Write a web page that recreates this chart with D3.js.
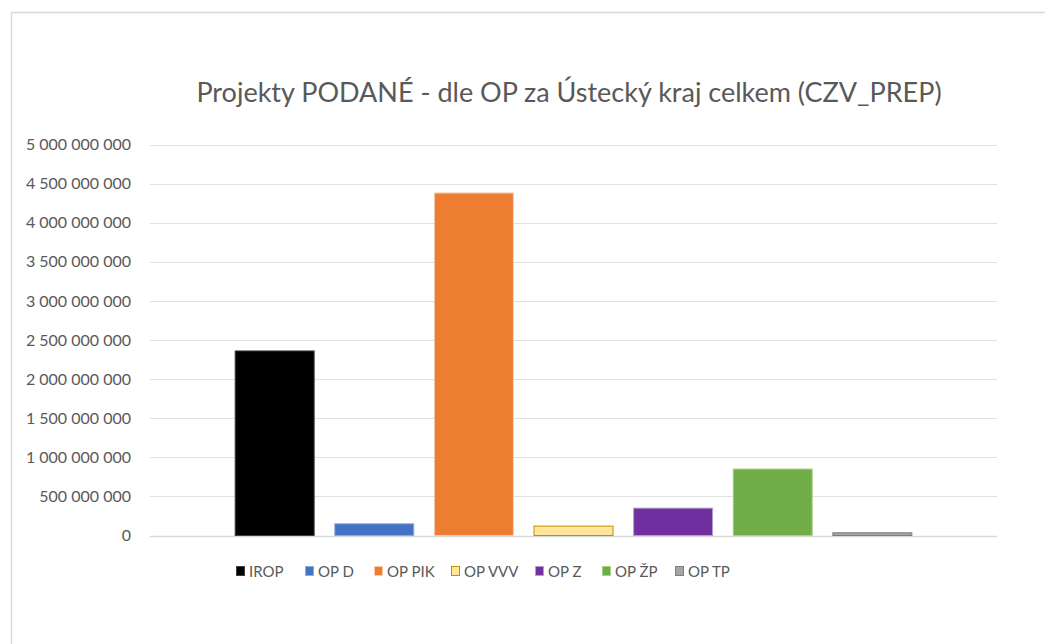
<!DOCTYPE html>
<html>
<head>
<meta charset="utf-8">
<script src="https://cdn.jsdelivr.net/npm/d3@7"></script>
<style>
  body { margin: 0; background: #fff; }
  text { font-family: Lato, "Open Sans", sans-serif; fill: #595959; }
</style>
</head>
<body>
<svg id="chart"></svg>
<script>
// data
var series = ['IROP', 'OP D', 'OP PIK', 'OP VVV', 'OP Z', 'OP ŽP', 'OP TP'];
var values = [2360000000, 150000000, 4380000000, 120000000, 350000000, 850000000, 35000000];
var fills = ['#000000', '#4472C4', '#ED7D31', '#FFE699', '#7030A0', '#70AD47', '#A5A5A5'];
var strokes = ['#404040', '#8FAADC', '#F8CBAD', '#BF9000', '#B4A0D0', '#A9D18E', '#7F7F7F'];
var yTicks = [0, 500000000, 1000000000, 1500000000, 2000000000, 2500000000,
  3000000000, 3500000000, 4000000000, 4500000000, 5000000000];
var legendX = [236, 305, 374, 451, 535, 602, 675];

var w = 1045, h = 644;
var plotLeft = 150, plotRight = 997, plotTop = 144.5, plotBottom = 535.5;

var svg = d3.select('#chart').attr('width', w).attr('height', h);

// chart frame
svg.append('rect')
  .attr('x', 11.5).attr('y', 12.5)
  .attr('width', 1100).attr('height', 700)
  .attr('fill', '#fff').attr('stroke', '#d9d9d9').attr('stroke-width', 1.5);

var x = d3.scaleBand()
  .domain(series)
  .range([plotLeft, plotRight])
  .paddingInner(0.207)
  .paddingOuter(0.855);

var y = d3.scaleLinear()
  .domain([0, 5000000000])
  .range([plotBottom, plotTop]);

var fmt = function (d) { return d3.format(',')(d).replace(/,/g, ' '); };

// gridlines
svg.append('g').selectAll('line')
  .data(yTicks)
  .enter().append('line')
    .attr('x1', plotLeft).attr('x2', plotRight)
    .attr('y1', function (d) { return Math.round(y(d)) + 0.5; })
    .attr('y2', function (d) { return Math.round(y(d)) + 0.5; })
    .attr('stroke', function (d) { return d === 0 ? '#d9d9d9' : '#e0e0e0'; })
    .attr('stroke-width', function (d) { return d === 0 ? 1.5 : 1; });

// y axis labels
var yAxis = d3.axisLeft(y).tickValues(yTicks).tickFormat(fmt).tickSize(0).tickPadding(0);
var ga = svg.append('g')
  .attr('transform', 'translate(131,0)')
  .call(yAxis);
ga.select('.domain').remove();
ga.selectAll('text')
  .style('font-size', '16px')
  .style('font-family', 'Lato, sans-serif')
  .attr('fill', '#595959');

// bars
svg.append('g').selectAll('rect')
  .data(series)
  .enter().append('rect')
    .attr('x', function (d) { return x(d); })
    .attr('y', function (d, i) { return y(values[i]); })
    .attr('width', x.bandwidth())
    .attr('height', function (d, i) { return plotBottom - y(values[i]); })
    .attr('fill', function (d, i) { return fills[i]; })
    .attr('stroke', function (d, i) { return strokes[i]; })
    .attr('stroke-width', 1);

// title
svg.append('text')
  .attr('x', 569).attr('y', 102)
  .attr('text-anchor', 'middle')
  .style('font-size', '27px')
  .text('Projekty PODANÉ - dle OP za Ústecký kraj celkem (CZV_PREP)');

// legend
var lg = svg.append('g').selectAll('g')
  .data(series)
  .enter().append('g')
    .attr('transform', function (d, i) { return 'translate(' + legendX[i] + ',566)'; });
lg.append('rect')
  .attr('x', 0.5).attr('y', 0.5)
  .attr('width', 8).attr('height', 9)
  .attr('fill', function (d, i) { return fills[i]; })
  .attr('stroke', function (d, i) { return strokes[i]; });
lg.append('text')
  .attr('x', 13).attr('y', 11)
  .style('font-size', '15px')
  .text(function (d) { return d; });
</script>
</body>
</html>
